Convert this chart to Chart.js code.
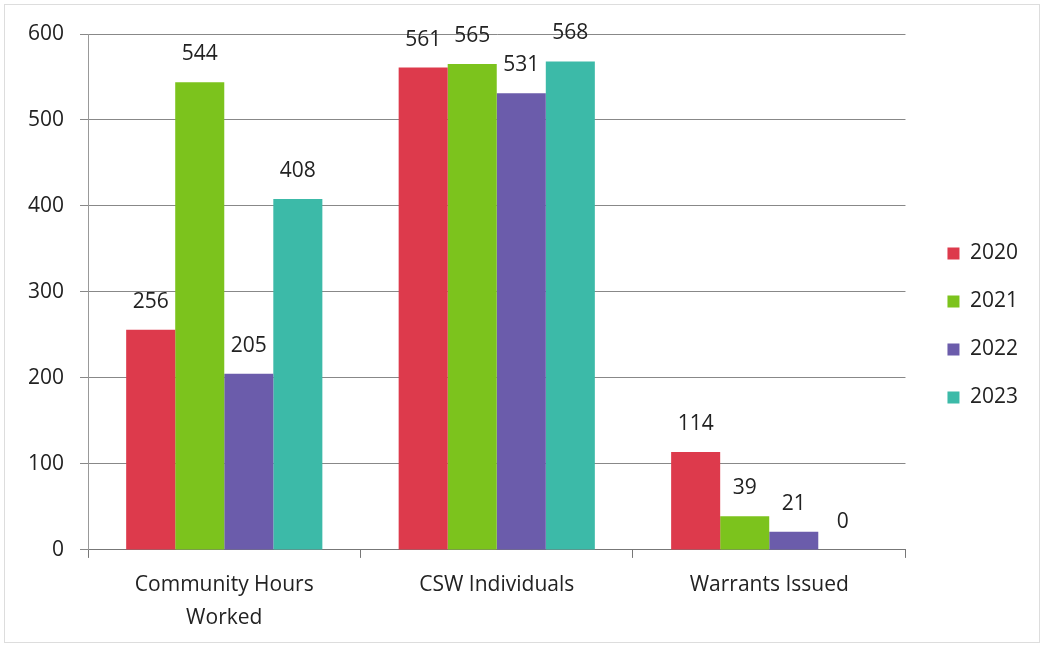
<!DOCTYPE html>
<html lang="en">
<head>
    <meta charset="UTF-8">
    <title>Community Service</title>
    <script src="https://cdn.jsdelivr.net/npm/chart.js"></script>
    <style>
        body { margin: 0; background: #fff; }
        .moldura { width: 1042px; height: 645px; position: relative; }
        .moldura::after { content: ''; position: absolute; left: 4px; top: 4px; right: 2px; bottom: 2px; border: 1px solid #ddd; pointer-events: none; }
    </style>
</head>
<body>
    <div class="moldura">
        <canvas id="grafico" width="1042" height="645"></canvas>
    </div>
<script>
    // dados
    const categorias = [['Community Hours', 'Worked'], 'CSW Individuals', 'Warrants Issued'];
    const anos = ['2020', '2021', '2022', '2023'];
    const valores2020 = [256, 561, 114];
    const valores2021 = [544, 565, 39];
    const valores2022 = [205, 531, 21];
    const valores2023 = [408, 568, 0];
    const ticksY = [0, 100, 200, 300, 400, 500, 600];

    const cores = ['#dd3a4c', '#7cc31d', '#6b5cab', '#3cbaa8'];
    const fonte = '"Open Sans", Lato, sans-serif';

    // escreve o valor em cima de cada barra
    const rotulos = {
        id: 'rotulos',
        afterDatasetsDraw(chart) {
            const ctx = chart.ctx;
            ctx.save();
            ctx.font = '21px ' + fonte;
            ctx.fillStyle = '#222';
            ctx.textAlign = 'center';
            ctx.textBaseline = 'middle';
            chart.data.datasets.forEach(function (ds, i) {
                const meta = chart.getDatasetMeta(i);
                meta.data.forEach(function (barra, j) {
                    ctx.fillText(ds.data[j], barra.x, barra.y - 28);
                });
            });
            ctx.restore();
        }
    };

    // afasta a legenda do grafico e sobe um pouco
    const ajusteLegenda = {
        id: 'ajusteLegenda',
        afterLayout(chart) {
            const lg = chart.legend;
            lg.left += 15;
            lg.right += 15;
            lg.top -= 14;
            lg.bottom -= 14;
        }
    };

    const series = [valores2020, valores2021, valores2022, valores2023];

    new Chart(document.getElementById('grafico'), {
        type: 'bar',
        data: {
            labels: categorias,
            datasets: anos.map(function (ano, i) {
                return {
                    label: ano,
                    data: series[i],
                    backgroundColor: cores[i],
                    borderWidth: 0,
                    categoryPercentage: 0.72,
                    barPercentage: 1
                };
            })
        },
        options: {
            responsive: false,
            animation: false,
            layout: { padding: { left: 12, right: 29, top: 34, bottom: 0 } },
            plugins: {
                legend: {
                    position: 'right',
                    labels: {
                        boxWidth: 12,
                        boxHeight: 12,
                        padding: 27,
                        color: '#222',
                        font: { size: 21, family: fonte }
                    }
                },
                tooltip: { enabled: false }
            },
            scales: {
                x: {
                    grid: { drawOnChartArea: false, tickLength: 8, color: '#777' },
                    border: { color: '#777' },
                    ticks: { color: '#222', padding: 11, font: { size: 21, family: fonte, lineHeight: 1.55 } }
                },
                y: {
                    min: 0,
                    max: 600,
                    afterBuildTicks(scale) {
                        scale.ticks = ticksY.map(function (v) { return { value: v }; });
                    },
                    grid: { color: '#888', tickLength: 8 },
                    border: { color: '#999' },
                    ticks: { color: '#222', padding: 16, font: { size: 21, family: fonte } }
                }
            }
        },
        plugins: [rotulos, ajusteLegenda]
    });
</script>
</body>
</html>
